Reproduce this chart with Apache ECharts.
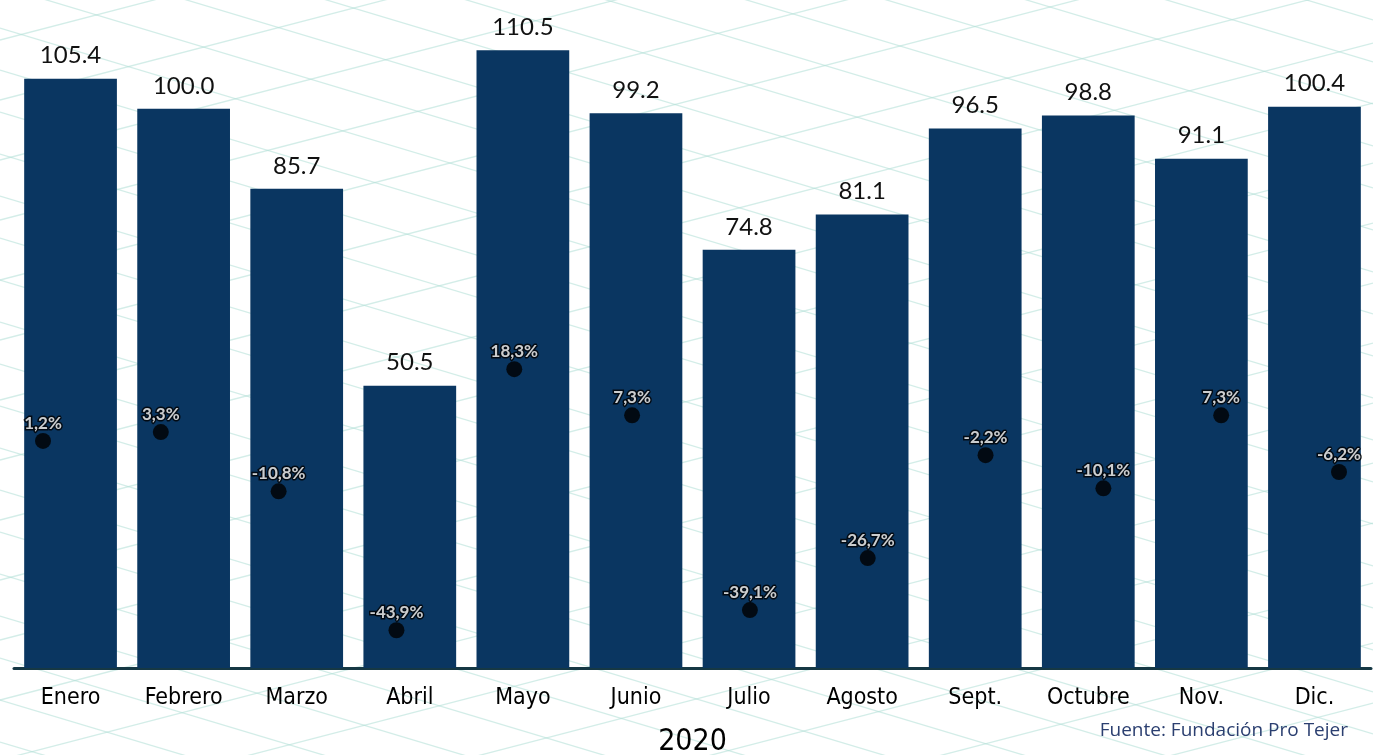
<!DOCTYPE html>
<html><head><meta charset="utf-8">
<script src="https://cdn.jsdelivr.net/npm/echarts@6/dist/echarts.min.js"></script>
<style>html,body{margin:0;padding:0;background:#fff}#c{width:1373px;height:755px}</style>
</head><body><div id="c"></div>
<script>
const categories = ["Enero","Febrero","Marzo","Abril","Mayo","Junio","Julio","Agosto","Sept.","Octubre","Nov.","Dic."];
const indexValues = [105.4,100.0,85.7,50.5,110.5,99.2,74.8,81.1,96.5,98.8,91.1,100.4];
const yoyChange = [1.2,3.3,-10.8,-43.9,18.3,7.3,-39.1,-26.7,-2.2,-10.1,7.3,-6.2];
const yearLabel = "2020";
const sourceText = "Fuente: Fundación Pro Tejer";

// decorative background lattice
const bg = document.createElement('canvas');
bg.width = 1373; bg.height = 755;
const g = bg.getContext('2d');
g.fillStyle = '#ffffff'; g.fillRect(0,0,1373,755);
g.strokeStyle = 'rgba(175,222,214,0.55)'; g.lineWidth = 1.3;
for (let k = -1400; k < 1400; k += 42) {
  g.beginPath(); g.moveTo(0, k); g.lineTo(1373, k + 1373*0.3); g.stroke();
}
for (let k = -200; k < 1400; k += 60) {
  g.beginPath(); g.moveTo(0, k); g.lineTo(1373, k - 1373*0.26); g.stroke();
}

const chart = echarts.init(document.getElementById('c'));
chart.setOption({
  backgroundColor: {image: bg, repeat: 'no-repeat'},
  animation: false,
  grid: [
    {left: 14, right: 2, top: 25, bottom: 87, containLabel: false, outerBoundsMode: 'none'},
    {left: 43, right: 34, top: 25, bottom: 87, containLabel: false, outerBoundsMode: 'none'}
  ],
  xAxis: [{
    type: 'category', data: categories, gridIndex: 0,
    axisLine: {show: true, lineStyle: {color: '#163844', width: 3}},
    axisTick: {show: false},
    axisLabel: {color: '#000', fontFamily: 'DejaVu Sans Condensed', fontSize: 23, margin: 19},
    name: yearLabel, nameLocation: 'middle', nameGap: 59,
    nameTextStyle: {color: '#000', fontFamily: 'DejaVu Sans Condensed', fontSize: 30}
  }, {
    type: 'category', data: categories, gridIndex: 1, boundaryGap: false, show: false
  }],
  yAxis: [
    {type: 'value', gridIndex: 0, min: 0, max: 115, show: false, splitLine: {show: false}},
    {type: 'value', gridIndex: 1, min: -52.9, max: 100.3, show: false, splitLine: {show: false}}
  ],
  series: [
    {
      type: 'bar', data: indexValues, barCategoryGap: '18%',
      itemStyle: {color: '#0a3661'},
      label: {show: true, position: 'top', distance: 11, color: '#111',
        fontFamily: 'Lato', fontSize: 24, formatter: p => p.value.toFixed(1)}
    },
    {
      type: 'scatter', xAxisIndex: 1, yAxisIndex: 1, data: yoyChange, symbolSize: 16,
      itemStyle: {color: '#000'},
      label: {show: true, position: 'top', distance: 1, color: '#ffffff',
        fontFamily: 'Lato', fontWeight: 'bold', fontSize: 17,
        textBorderColor: '#000', textBorderWidth: 3,
        formatter: p => p.value.toFixed(1).replace('.', ',') + '%'}
    }
  ],
  graphic: [{
    type: 'text', right: 25, top: 721,
    style: {text: sourceText, fill: '#2b3f70', fontFamily: 'Open Sans', fontSize: 19}
  }]
});
</script></body></html>
